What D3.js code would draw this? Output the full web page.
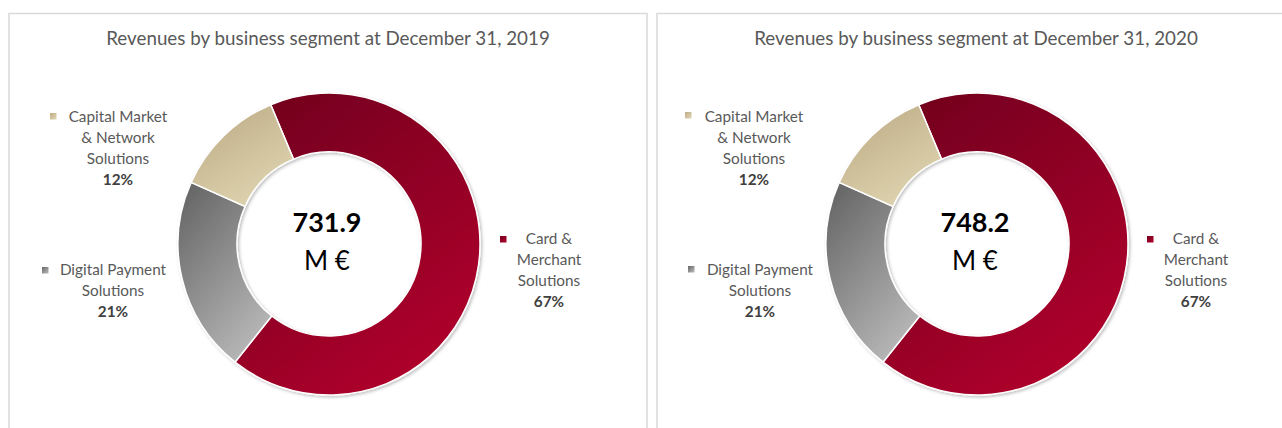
<!DOCTYPE html>
<html>
<head>
<meta charset="utf-8">
<script src="https://cdn.jsdelivr.net/npm/d3@7"></script>
<style>
  html, body { margin: 0; padding: 0; background: #ffffff; }
  svg { display: block; }
</style>
</head>
<body>
<svg id="chart" width="1282" height="428"></svg>
<script>
// ---- data ----
const years = ["2019", "2020"];
const titles = ["Revenues by business segment at December 31, 2019",
                "Revenues by business segment at December 31, 2020"];
const totals = ["731.9", "748.2"];
const unitLabel = "M €";
const segments = ["Card & Merchant Solutions", "Digital Payment Solutions", "Capital Market & Network Solutions"];
const segmentLines = [["Card &", "Merchant", "Solutions"], ["Digital Payment", "Solutions"], ["Capital Market", "& Network", "Solutions"]];
const shares2019 = [67, 21, 12];
const shares2020 = [67, 21, 12];
const sharesByYear = [shares2019, shares2020];

// ---- styling / layout ----
const gradStops = [
  ["#74001e", "#b3002d"],
  ["#686868", "#bcbcbc"],
  ["#bcac86", "#e2d7b3"]
];
const panels = [
  { x: 9, cx: 329, cy: 244, labels: [{x: 549, y: 239, sq: [500, 236]}, {x: 113, y: 270, sq: [42, 267]}, {x: 118, y: 117, sq: [50, 113]}] },
  { x: 657, cx: 977, cy: 244, labels: [{x: 1196, y: 239, sq: [1147, 236]}, {x: 760, y: 270, sq: [688, 266]}, {x: 754, y: 117, sq: [685, 112]}] }
];

const svg = d3.select("#chart");
const defs = svg.append("defs");
const shadow = defs.append("filter").attr("id", "shadow").attr("x", "-10%").attr("y", "-10%").attr("width", "120%").attr("height", "120%");
shadow.append("feDropShadow").attr("dx", 1.5).attr("dy", 1.5).attr("stdDeviation", 1.5).attr("flood-color", "#000").attr("flood-opacity", 0.25);

gradStops.forEach((s, i) => {
  const g = defs.append("linearGradient").attr("id", "grad" + i)
    .attr("x1", 0.2).attr("y1", 0).attr("x2", 0.8).attr("y2", 1);
  g.append("stop").attr("offset", "0%").attr("stop-color", s[0]);
  g.append("stop").attr("offset", "100%").attr("stop-color", s[1]);
  const gl = defs.append("linearGradient").attr("id", "legGrad" + i)
    .attr("x1", 0).attr("y1", 0).attr("x2", 1).attr("y2", 1);
  gl.append("stop").attr("offset", "0%").attr("stop-color", s[0]);
  gl.append("stop").attr("offset", "100%").attr("stop-color", s[1]);
});

const outerR = 151, innerR = 92;
const startA = -22.7 * Math.PI / 180;
const pie = d3.pie().sort(null).value(d => d).startAngle(startA).endAngle(startA + 2 * Math.PI);
const arc = d3.arc().innerRadius(innerR).outerRadius(outerR);

panels.forEach((p, pi) => {
  const g = svg.append("g");
  g.append("rect").attr("x", p.x).attr("y", 13.5).attr("width", 638).attr("height", 440)
    .attr("fill", "#fff").attr("stroke", "#d9d9d9").attr("stroke-width", 1.5);

  g.append("text").attr("x", p.cx - 1).attr("y", 45).attr("text-anchor", "middle")
    .attr("font-family", "Lato, sans-serif").attr("font-size", 18.8).attr("fill", "#595959")
    .text(titles[pi]);

  const donut = g.append("g").attr("transform", `translate(${p.cx},${p.cy})`).attr("filter", "url(#shadow)");
  donut.selectAll("path").data(pie(sharesByYear[pi])).join("path")
    .attr("d", arc)
    .attr("fill", (d, i) => `url(#grad${i})`)
    .attr("stroke", "#ffffff").attr("stroke-width", 1.5);

  g.append("text").attr("x", p.cx - 2).attr("y", p.cy - 12).attr("text-anchor", "middle")
    .attr("font-family", "Lato, sans-serif").attr("font-weight", "bold").attr("font-size", 27).attr("fill", "#000")
    .text(totals[pi]);
  g.append("text").attr("x", p.cx - 2).attr("y", p.cy + 26).attr("text-anchor", "middle")
    .attr("font-family", "Lato, sans-serif").attr("font-size", 26).attr("fill", "#000")
    .text(unitLabel);

  p.labels.forEach((L, si) => {
    g.append("rect").attr("x", L.sq[0]).attr("y", L.sq[1]).attr("width", 6.5).attr("height", 6.5)
      .attr("fill", `url(#legGrad${si})`);
    const t = g.append("text").attr("text-anchor", "middle")
      .attr("font-family", "Lato, sans-serif").attr("font-size", 15.3).attr("fill", "#595959");
    const lines = segmentLines[si];
    lines.forEach((ln, li) => {
      t.append("tspan").attr("x", L.x).attr("y", L.y + 5 + li * 21).text(ln);
    });
    t.append("tspan").attr("x", L.x).attr("y", L.y + 5 + lines.length * 21)
      .attr("font-weight", "bold").attr("fill", "#404040").text(sharesByYear[pi][si] + "%");
  });
});
</script>
</body>
</html>
